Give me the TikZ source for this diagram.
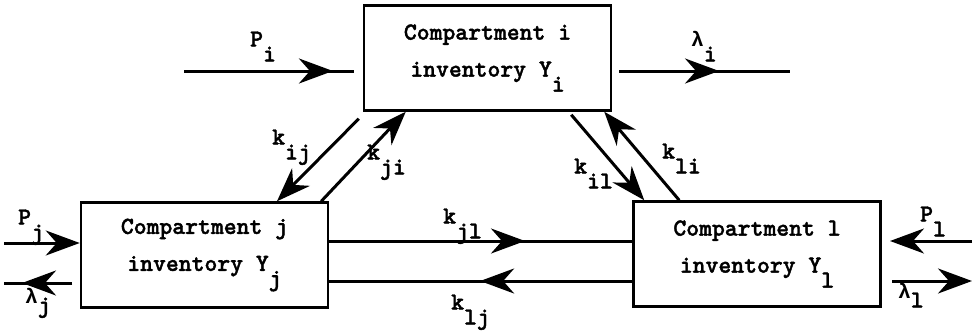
\documentclass[tikz,border=0pt]{standalone}
\usepackage{fontspec}
\usetikzlibrary{arrows.meta,calc}
\newfontfamily\gk{Liberation Mono}
\newfontfamily\twf{lmmonolt10-bold.otf}[FakeBold=1.6]
\newcommand{\tw}{\fontsize{24.5}{37}\selectfont\twf}
\newcommand{\dn}[1]{\raisebox{-15pt}{#1}}
\newcommand{\dl}[1]{\raisebox{-9pt}{#1}}
\newcommand{\lam}{{\gk\bfseries\fontsize{21}{25}\selectfont λ}}
\begin{document}
\begin{tikzpicture}[x=1pt,y=-1pt,
  box/.style={draw, line width=2.5pt, minimum width=247pt, minimum height=105pt, inner sep=0pt, align=center, font=\tw},
  lbl/.style={anchor=base west, inner sep=0pt, font=\tw},
  conn/.style={line width=3pt},
  head/.style={line width=3pt, -{Stealth[length=34pt,width=25pt,inset=11pt]}}]
\useasboundingbox (0,0) rectangle (976,332);
% boxes
\node[box] (i) at (487.5,58) {Compartment i\\inventory Y\dn{i}};
\node[box] (j) at (204.5,255) {Compartment j\\inventory Y\dn{j}};
\node[box] (l) at (757,254) {Compartment l\\inventory Y\dn{l}};
% free ends
\coordinate (pis) at (184,71); \coordinate (pie) at (354,71);
\coordinate (lis) at (619,71); \coordinate (lie) at (790,71);
\coordinate (pjs) at (4,243);
\coordinate (ljs) at (72,283); \coordinate (lje) at (4,283);
\coordinate (pls) at (972,241); \coordinate (ple) at (890,241);
\coordinate (lls) at (892,281); \coordinate (lle) at (972,281);
% box-side anchors
\coordinate (jla) at ([yshift=14pt]j.east); \coordinate (jlb) at ([yshift=13pt]l.west);
\coordinate (lja) at ([yshift=-27pt]l.west); \coordinate (ljb) at ([yshift=-26pt]j.east);
% inputs / outputs
\draw[conn] (pis) -- (pie); \draw[head] (pis) -- ($(pis)!0.876!(pie)$);
\draw[conn] (lis) -- (lie); \draw[head] (lis) -- ($(lis)!0.585!(lie)$);
\draw[head] (pjs) -- (pjs -| j.west);
\draw[conn] (ljs) -- (lje); \draw[head] (ljs) -- ($(ljs)!0.735!(lje)$);
\draw[head] (pls) -- (ple);
\draw[head] (lls) -- (lle);
% horizontal exchanges
\draw[conn] (jla) -- (jlb); \draw[head] (jla) -- ($(jla)!0.646!(jlb)$);
\draw[conn] (lja) -- (ljb); \draw[head] (lja) -- ($(lja)!0.502!(ljb)$);
% diagonal exchanges
\draw[head] ([shift={(-4,7)}]i.south west) -- ([xshift=72.5pt]j.north);
\draw[head] ([xshift=-8pt]j.north east) -- ([xshift=43pt]i.south west);
\draw[head] ([shift={(-41,3)}]i.south east) -- ([xshift=12pt]l.north west);
\draw[head] ([xshift=47pt]l.north west) -- ([xshift=-8pt]i.south east);
% labels
\node[lbl] (tpi) at (250,46.5) {P\dn{i}};
\node[lbl] (tli) at (691,46.5) {\lam\dn{i}};
\node[lbl] (tpj) at (18,224.5) {P\dn{j}};
\node[lbl] (tlj) at (25,303.5) {\lam\dl{j}};
\node[lbl] (tpl) at (920,221.5) {P\dn{l}};
\node[lbl] (tll) at (898,298.5) {\lam\dl{l}};
\node[lbl] (kij) at (272,144.5) {k\dn{ij}};
\node[lbl] (kji) at (367,159.5) {k\dn{ji}};
\node[lbl] (kil) at (574,173.5) {k\dn{il}};
\node[lbl] (kli) at (662,158.5) {k\dn{li}};
\node[lbl] (kjl) at (443,223.5) {k\dn{jl}};
\node[lbl] (klj) at (451,309.5) {k\dn{lj}};
\end{tikzpicture}
\end{document}
